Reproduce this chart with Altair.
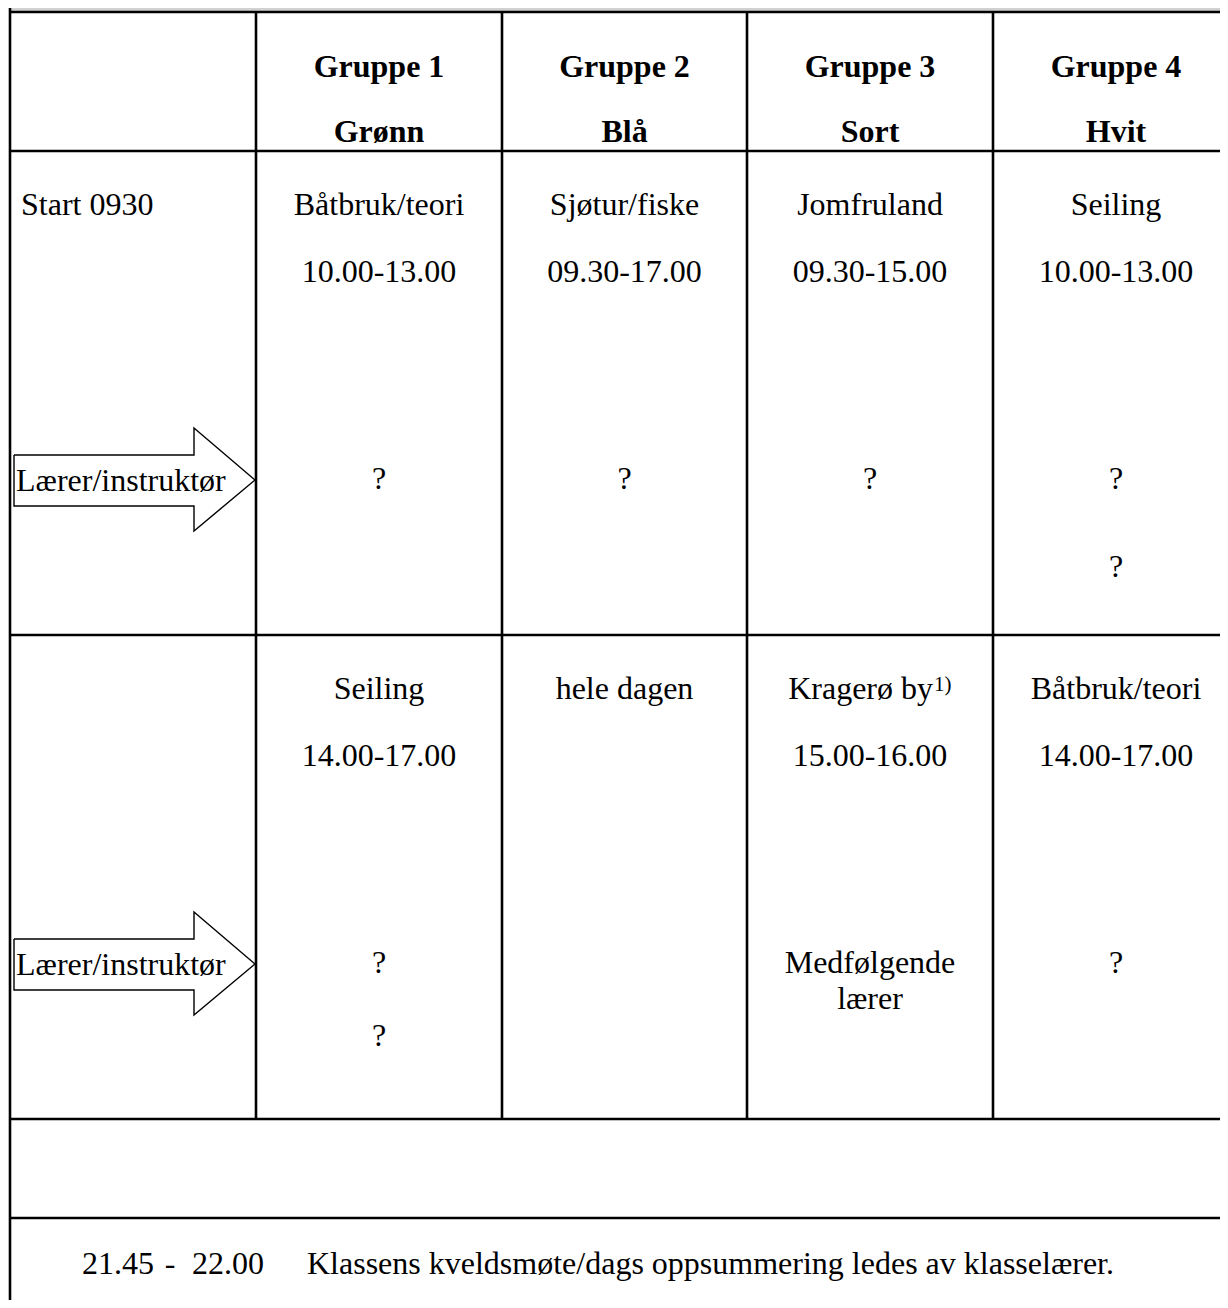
import altair as alt
import pandas as pd

# ---------------- content ----------------
GROUPS = ["Gruppe 1", "Gruppe 2", "Gruppe 3", "Gruppe 4"]
COLOURS = ["Grønn", "Blå", "Sort", "Hvit"]
START_LABEL = "Start 0930"
ARROW_LABEL = "Lærer/instruktør"
AM_ACTIVITY = ["Båtbruk/teori", "Sjøtur/fiske", "Jomfruland", "Seiling"]
AM_TIME = ["10.00-13.00", "09.30-17.00", "09.30-15.00", "10.00-13.00"]
AM_STAFF = [["?"], ["?"], ["?"], ["?", "?"]]
PM_ACTIVITY = ["Seiling", "hele dagen", "Kragerø by", "Båtbruk/teori"]
PM_NOTE = ["", "", "1)", ""]
PM_TIME = ["14.00-17.00", "", "15.00-16.00", "14.00-17.00"]
PM_STAFF = [["?", "?"], [], ["Medfølgende", "lærer"], ["?"]]
EVENING = ["21.45", "-", "22.00",
           "Klassens kveldsmøte/dags oppsummering ledes av klasselærer."]

# ---------------- layout (page pixels) ----------------
TOP, BOTTOM, RIGHT = 8, 1300, 1220            # drawable area of the page
COL = [10, 256, 502, 747, 993, 1239]          # table column edges
ROW = [12, 151, 635, 1119, 1218]              # table row edges
HEAD_BASE = [65, 130]                         # header baselines (from row top)
LINE_BASE = [64, 131]                         # activity / time baselines
STAFF_BASE = 338
AM_GAP = [0, 0, 0, 88]
PM_GAP = [73, 0, 36, 0]
ARROW_TIP = 329
EVENING_X = [82, 170, 192, 307]
EVENING_ALIGN = ["left", "center", "left", "left"]
EVENING_BASE = 1274
FONT = "Liberation Serif"
FS = 32

centers = [(COL[i + 1] + COL[i + 2]) / 2 for i in range(4)]

xs = alt.Scale(domain=[TOP, RIGHT], nice=False, zero=False)
ys = alt.Scale(domain=[TOP, BOTTOM], nice=False, zero=False, reverse=True)

# ---- grid lines ----
lines = []
for y in ROW:
    lines.append(dict(x=COL[0] - 1, x2=COL[-1], y=y, y2=y))
lines.append(dict(x=COL[0], x2=COL[0], y=TOP, y2=BOTTOM + 10))
for x in COL[1:5]:
    lines.append(dict(x=x, x2=x, y=ROW[0], y2=ROW[3]))
lines_df = pd.DataFrame(lines)

rules = alt.Chart(lines_df).mark_rule(color="black", strokeWidth=2.6).encode(
    x=alt.X("x:Q", scale=xs, axis=None), x2="x2:Q",
    y=alt.Y("y:Q", scale=ys, axis=None), y2="y2:Q")

band_df = pd.DataFrame([dict(x=COL[0], x2=COL[-1], y=TOP, y2=ROW[0] - 1)])
band = alt.Chart(band_df).mark_rect(color="#d1d0d2").encode(
    x=alt.X("x:Q", scale=xs, axis=None), x2="x2:Q",
    y=alt.Y("y:Q", scale=ys, axis=None), y2="y2:Q")

# ---- arrows ----
arrow_pts = []
for k, rtop in enumerate([ROW[1], ROW[2]]):
    t = rtop + ARROW_TIP
    pts = [(14, t - 25), (194, t - 25), (194, t - 52), (255, t),
           (194, t + 51), (194, t + 26), (14, t + 26), (14, t - 25)]
    for i, (px, py) in enumerate(pts):
        arrow_pts.append(dict(a=k, o=i, x=px, y=py))
arrow_df = pd.DataFrame(arrow_pts)
arrows = alt.Chart(arrow_df).mark_line(color="black", strokeWidth=1.4,
                                       strokeJoin="miter").encode(
    x=alt.X("x:Q", scale=xs, axis=None),
    y=alt.Y("y:Q", scale=ys, axis=None),
    detail="a:N", order="o:Q")

# ---- texts ----
bold_c, norm_c, norm_l, norm_r, sup_l = [], [], [], [], []
for i in range(4):
    bold_c.append(dict(x=centers[i], y=ROW[0] + HEAD_BASE[0], t=GROUPS[i]))
    bold_c.append(dict(x=centers[i], y=ROW[0] + HEAD_BASE[1], t=COLOURS[i]))
    # morning
    norm_c.append(dict(x=centers[i], y=ROW[1] + LINE_BASE[0], t=AM_ACTIVITY[i]))
    norm_c.append(dict(x=centers[i], y=ROW[1] + LINE_BASE[1], t=AM_TIME[i]))
    for j, s in enumerate(AM_STAFF[i]):
        norm_c.append(dict(x=centers[i], y=ROW[1] + STAFF_BASE + j * AM_GAP[i], t=s))
    # afternoon
    if PM_NOTE[i]:
        norm_r.append(dict(x=centers[i] + 63, y=ROW[2] + LINE_BASE[0], t=PM_ACTIVITY[i]))
        sup_l.append(dict(x=centers[i] + 64, y=ROW[2] + LINE_BASE[0] - 8, t=PM_NOTE[i]))
    else:
        norm_c.append(dict(x=centers[i], y=ROW[2] + LINE_BASE[0], t=PM_ACTIVITY[i]))
    if PM_TIME[i]:
        norm_c.append(dict(x=centers[i], y=ROW[2] + LINE_BASE[1], t=PM_TIME[i]))
    for j, s in enumerate(PM_STAFF[i]):
        norm_c.append(dict(x=centers[i], y=ROW[2] + STAFF_BASE + j * PM_GAP[i], t=s))

norm_l.append(dict(x=21, y=ROW[1] + LINE_BASE[0], t=START_LABEL))
for rtop in [ROW[1], ROW[2]]:
    norm_l.append(dict(x=16, y=rtop + ARROW_TIP + 11, t=ARROW_LABEL))
for x, al, s in zip(EVENING_X, EVENING_ALIGN, EVENING):
    (norm_l if al == "left" else norm_c).append(dict(x=x, y=EVENING_BASE, t=s))


def text_layer(rows, align, bold=False, size=FS):
    return alt.Chart(pd.DataFrame(rows)).mark_text(
        font=FONT, fontSize=size, align=align, baseline="alphabetic",
        fontWeight="bold" if bold else "normal", color="black").encode(
        x=alt.X("x:Q", scale=xs, axis=None),
        y=alt.Y("y:Q", scale=ys, axis=None),
        text="t:N")


chart = alt.layer(
    band, rules, arrows,
    text_layer(bold_c, "center", bold=True),
    text_layer(norm_c, "center"),
    text_layer(norm_l, "left"),
    text_layer(norm_r, "right"),
    text_layer(sup_l, "left", size=21),
).properties(
    width=RIGHT - TOP, height=BOTTOM - TOP,
    autosize=alt.AutoSizeParams(type="none"),
    padding=0, background="white"
).configure_view(stroke=None)

chart.save("out.html", embed_options={"renderer": "svg", "actions": False})
